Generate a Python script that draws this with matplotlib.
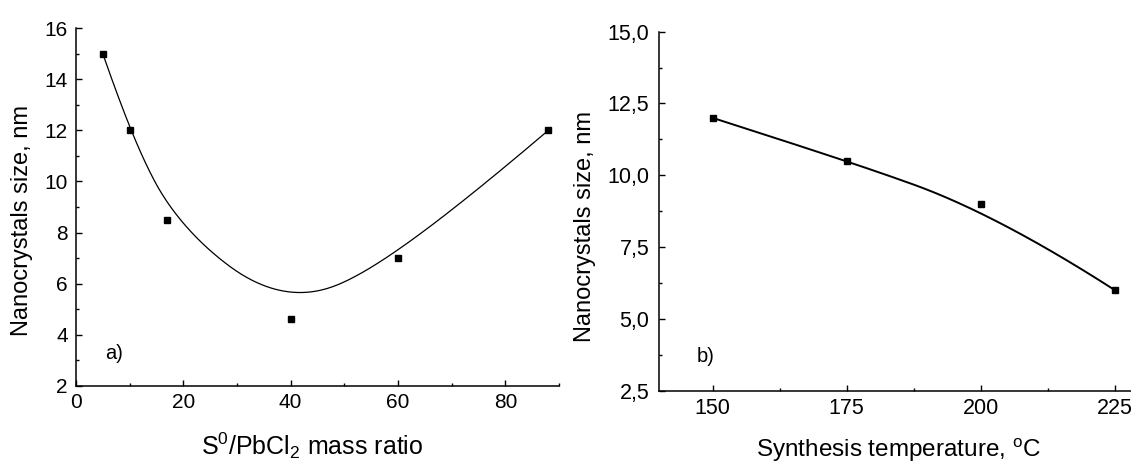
import numpy as np
import matplotlib
matplotlib.use("Agg")
import matplotlib.pyplot as plt
from matplotlib.ticker import MultipleLocator, FuncFormatter

plt.rcParams['font.family'] = ['Liberation Sans', 'DejaVu Sans']
plt.rcParams['mathtext.fontset'] = 'custom'
plt.rcParams['mathtext.rm'] = 'Liberation Sans'
plt.rcParams['mathtext.default'] = 'regular'

# ---- data ----
ratio = [5, 10, 17, 40, 60, 88]
size_a = [15, 12, 8.5, 4.6, 7, 12]
temperature = [150, 175, 200, 225]
size_b = [12, 10.5, 9, 6]

xlabel_a = r"S$^{0}$/PbCl$_{2}$ mass ratio"
xlabel_b = r"Synthesis temperature, $^{o}$C"
ylabel = "Nanocrystals size, nm"
panel_a = "a)"
panel_b = "b)"


def bspline(xs, ys, k=3, n=400):
    """Clamped B-spline using the data points as control points."""
    P = np.column_stack([xs, ys]).astype(float)
    m = len(P)
    k = min(k, m - 1)
    inner = np.linspace(0, 1, m - k + 1)
    t = np.concatenate([np.zeros(k), inner, np.ones(k)])
    u = np.linspace(0, 1, n)
    N = np.zeros((n, len(t) - 1))
    for i in range(len(t) - 1):
        N[:, i] = ((u >= t[i]) & (u < t[i + 1])).astype(float)
    last = max(i for i in range(len(t) - 1) if t[i] < t[i + 1])
    N[u >= 1, last] = 1.0
    for p in range(1, k + 1):
        Nn = np.zeros((n, len(t) - 1 - p))
        for i in range(len(t) - 1 - p):
            d1 = t[i + p] - t[i]
            d2 = t[i + p + 1] - t[i + 1]
            a = (u - t[i]) / d1 if d1 > 0 else 0.0
            b = (t[i + p + 1] - u) / d2 if d2 > 0 else 0.0
            Nn[:, i] = a * N[:, i] + b * N[:, i + 1]
        N = Nn
    C = N @ P
    return C[:, 0], C[:, 1]


def smooth_curve(xs, ys, w3):
    x3, y3 = bspline(xs, ys, k=3)
    x2, y2 = bspline(xs, ys, k=2)
    return w3 * x3 + (1 - w3) * x2, w3 * y3 + (1 - w3) * y2


W, H = 1131, 465
fig = plt.figure(figsize=(W / 100, H / 100), dpi=100)
fig.patch.set_facecolor('white')

ax1 = fig.add_axes([76 / W, (H - 385.7) / H, 483 / W, 357.4 / H])
ax2 = fig.add_axes([659 / W, (H - 390.7) / H, 472 / W, 359 / H])

for ax in (ax1, ax2):
    for s in ('top', 'right'):
        ax.spines[s].set_visible(False)
    for s in ('left', 'bottom'):
        ax.spines[s].set_linewidth(1.1)
    ax.tick_params(which='major', direction='in', length=4.3, width=1.0,
                   labelsize=15.5)
    ax.tick_params(which='minor', direction='in', length=2.4, width=1.0)
    ax.set_facecolor('white')

# ---- panel a ----
cx, cy = smooth_curve(ratio, size_a, 0.6)
ax1.plot(cx, cy, color='black', lw=0.9, zorder=2)
ax1.plot(ratio, size_a, ls='none', marker='s', ms=5, color='black', zorder=3)
ax1.set_xlim(0, 90)
ax1.set_ylim(2, 16)
ax1.xaxis.set_major_locator(MultipleLocator(20))
ax1.xaxis.set_minor_locator(MultipleLocator(10))
ax1.yaxis.set_major_locator(MultipleLocator(2))
ax1.yaxis.set_minor_locator(MultipleLocator(1))
ax1.tick_params(axis='y', which='major', pad=6)
ax1.tick_params(axis='x', which='major', pad=5.5)
ax1.tick_params(labelsize=15)
ax1.text(0.06, 0.075, panel_a, transform=ax1.transAxes, fontsize=14.5,
         ha='left', va='baseline')

# ---- panel b ----
cx, cy = smooth_curve(temperature, size_b, 0.4)
ax2.plot(cx, cy, color='black', lw=1.4, zorder=2)
ax2.plot(temperature, size_b, ls='none', marker='s', ms=5, color='black', zorder=3)
ax2.set_xlim(140, 228)
ax2.set_ylim(2.5, 15)
ax2.xaxis.set_major_locator(MultipleLocator(25))
ax2.xaxis.set_minor_locator(MultipleLocator(12.5))
ax2.yaxis.set_major_locator(MultipleLocator(2.5))
ax2.yaxis.set_minor_locator(MultipleLocator(1.25))
ax2.yaxis.set_major_formatter(FuncFormatter(lambda v, p: f"{v:.1f}".replace('.', ',')))
ax2.xaxis.set_major_formatter(FuncFormatter(lambda v, p: f"{v:.0f}"))
ax2.tick_params(axis='y', which='major', pad=7)
ax2.tick_params(axis='x', which='major', pad=5.5)
ax2.text(0.08, 0.081, panel_b, transform=ax2.transAxes, fontsize=14.5,
         ha='left', va='baseline')

# ---- axis labels ----
fig.text(22 / W, 1 - 220 / H, ylabel, rotation=90, ha='center', va='center', fontsize=17)
fig.text(585 / W, 1 - 226 / H, ylabel, rotation=90, ha='center', va='center', fontsize=17)
fig.text(312 / W, 1 - 455 / H, xlabel_a, ha='center', va='baseline', fontsize=18)
fig.text(898 / W, 1 - 457 / H, xlabel_b, ha='center', va='baseline', fontsize=17.5)

fig.savefig("out.png", dpi=100, facecolor='white')
